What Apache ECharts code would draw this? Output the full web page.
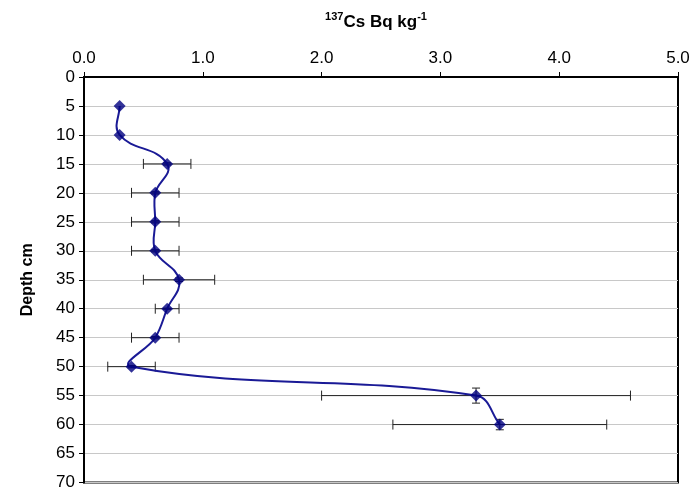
<!DOCTYPE html>
<html>
<head>
<meta charset="utf-8">
<script src="https://cdn.jsdelivr.net/npm/echarts@6/dist/echarts.min.js"></script>
<style>
  html, body { margin: 0; padding: 0; background: #fff; }
  #main { width: 695px; height: 491px; }
</style>
</head>
<body>
<div id="main"></div>
<script>
// depth (cm) and 137Cs activity (Bq/kg)
const depths = [5, 10, 15, 20, 25, 30, 35, 40, 45, 50, 55, 60];
const cs137 = [0.3, 0.3, 0.7, 0.6, 0.6, 0.6, 0.8, 0.7, 0.6, 0.4, 3.3, 3.5];
const errors = [0, 0, 0.2, 0.2, 0.2, 0.2, 0.3, 0.1, 0.2, 0.2, 1.3, 0.9];

const chart = echarts.init(document.getElementById('main'));

const points = depths.map((d, i) => [cs137[i], d]);
const errData = depths.map((d, i) => [cs137[i], d, errors[i]]);

// error bars (same error applied in x and y, like the original)
function renderErr(params, api) {
    const x = api.value(0), y = api.value(1), e = api.value(2);
    if (!e) return null;
    const l = api.coord([x - e, y]);
    const r = api.coord([x + e, y]);
    const t = api.coord([x, y - e]);
    const b = api.coord([x, y + e]);
    const st = { stroke: '#222', lineWidth: 1 };
    const cap = 5, vcap = 4;
    return {
        type: 'group',
        children: [
            { type: 'line', shape: { x1: l[0], y1: l[1], x2: r[0], y2: r[1] }, style: st },
            { type: 'line', shape: { x1: l[0], y1: l[1] - cap, x2: l[0], y2: l[1] + cap }, style: st },
            { type: 'line', shape: { x1: r[0], y1: r[1] - cap, x2: r[0], y2: r[1] + cap }, style: st },
            { type: 'line', shape: { x1: t[0], y1: t[1], x2: b[0], y2: b[1] }, style: st },
            { type: 'line', shape: { x1: t[0] - vcap, y1: t[1], x2: t[0] + vcap, y2: t[1] }, style: st },
            { type: 'line', shape: { x1: b[0] - vcap, y1: b[1], x2: b[0] + vcap, y2: b[1] }, style: st }
        ]
    };
}

// smoothed line like Excel: tangent from neighbours, handle length scaled by the segment itself
const tension = 0.38;
function renderCurve(params, api) {
    const i = params.dataIndex;
    const n = points.length;
    if (i >= n - 1) return null;
    const c = k => api.coord(points[Math.max(0, Math.min(n - 1, k))]);
    const p0 = c(i - 1), p1 = c(i), p2 = c(i + 1), p3 = c(i + 2);
    const seg = Math.hypot(p2[0] - p1[0], p2[1] - p1[1]);
    const unit = (a, b) => {
        const dx = b[0] - a[0], dy = b[1] - a[1];
        const len = Math.hypot(dx, dy) || 1;
        return [dx / len, dy / len];
    };
    const u1 = unit(p0, p2), u2 = unit(p1, p3);
    return {
        type: 'bezierCurve',
        shape: {
            x1: p1[0], y1: p1[1],
            x2: p2[0], y2: p2[1],
            cpx1: p1[0] + u1[0] * seg * tension, cpy1: p1[1] + u1[1] * seg * tension,
            cpx2: p2[0] - u2[0] * seg * tension, cpy2: p2[1] - u2[1] * seg * tension
        },
        style: { stroke: '#1a1a96', lineWidth: 2, fill: null }
    };
}

const option = {
    animation: false,
    textStyle: { fontFamily: 'Liberation Sans, Arial, sans-serif' },
    grid: { left: 84, right: 17, top: 77, bottom: 7, show: true, borderColor: '#000', borderWidth: 2 },
    graphic: [{
        type: 'text',
        x: 376,
        y: 22,
        style: {
            text: '{s|137}{b|Cs Bq kg}{s|-1}',
            align: 'center',
            verticalAlign: 'middle',
            rich: {
                b: { fontSize: 17, fontWeight: 'bold', fontFamily: 'Liberation Sans', fill: '#000', lineHeight: 22 },
                s: { fontSize: 11, fontWeight: 'bold', fontFamily: 'Liberation Sans', fill: '#000', verticalAlign: 'top', lineHeight: 22 }
            }
        }
    }],
    xAxis: {
        type: 'value',
        position: 'top',
        min: 0,
        max: 5,
        interval: 1,
        axisLine: { show: true, lineStyle: { color: '#000', width: 2 } },
        axisTick: { show: true, length: 5, lineStyle: { color: '#000' } },
        axisLabel: { fontSize: 17, color: '#000', margin: 10, formatter: v => v.toFixed(1) },
        splitLine: { show: false }
    },
    yAxis: {
        type: 'value',
        inverse: true,
        min: 0,
        max: 70,
        interval: 5,
        name: 'Depth cm',
        nameLocation: 'middle',
        nameRotate: 90,
        nameGap: 48,
        nameTextStyle: { fontSize: 16, fontWeight: 'bold', color: '#000' },
        axisLine: { show: true, lineStyle: { color: '#000', width: 2 } },
        axisTick: { show: true, length: 5, lineStyle: { color: '#000' } },
        axisLabel: { fontSize: 17, color: '#000', margin: 9 },
        splitLine: { show: true, lineStyle: { color: '#c8c8c8', width: 1 } }
    },
    series: [
        {
            type: 'custom',
            renderItem: renderErr,
            data: errData,
            z: 1,
            silent: true
        },
        {
            type: 'custom',
            renderItem: renderCurve,
            data: points,
            z: 2,
            silent: true
        },
        {
            type: 'scatter',
            data: points,
            symbol: 'diamond',
            symbolSize: 12,
            itemStyle: { color: '#000080' },
            z: 3
        }
    ]
};

chart.setOption(option);
</script>
</body>
</html>
